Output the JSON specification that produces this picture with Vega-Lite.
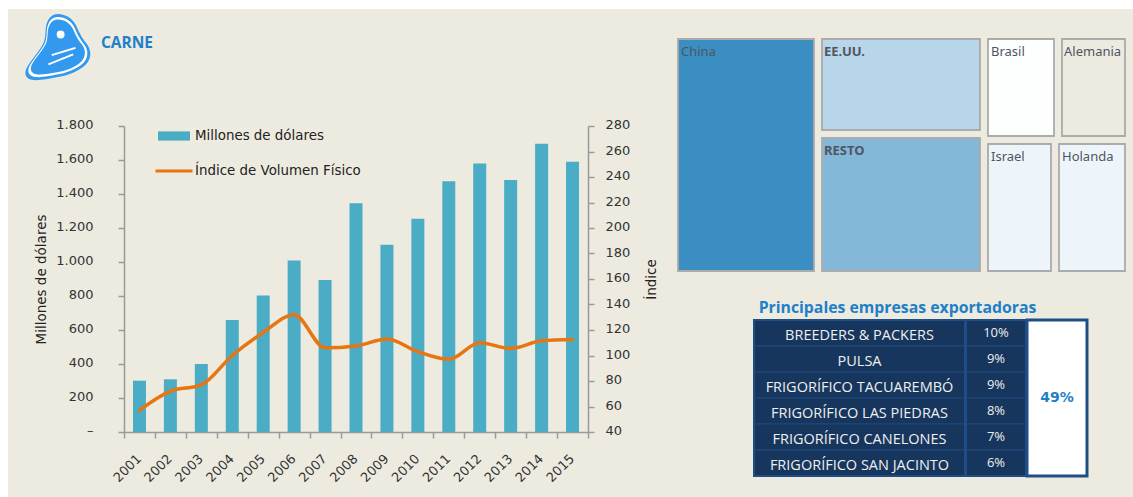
{
"$schema":"https://vega.github.io/schema/vega-lite/v6.json",
"background":"#EDEBE0","padding":0,"spacing":0,
"config":{"view":{"stroke":null}},
"vconcat":[
 {"width":1133,"height":9,"data":{"values":[{}]},"mark":{"type":"rect","fill":"#FFFFFF"},"encoding":{}},
 {"spacing":17,"hconcat":[
  {"width":8,"height":488,"data":{"values":[{}]},"mark":{"type":"rect","fill":"#FFFFFF"},"encoding":{}},
  {"spacing":-57,"hconcat":[
   {"width":66,"height":76,"data":{"values":[{"logo":"CARNE"}]},"layer":[
    {"mark":{"type":"point","filled":true,"opacity":1,"strokeWidth":0,"fill":"#3399EE","size":4356,"shape":"M0,-1C.25,-1 .45,-.85 .55,-.65C.65,-.42 .72,-.28 .85,-.12C1.02,.08 1.05,.38 .77,.6C.5,.8 .2,.88 -.04,.92C-.3,.97 -.55,1.02 -.75,1C-1,.97 -1.05,.78 -.92,.58C-.75,.32 -.55,.1 -.45,-.1C-.35,-.3 -.4,-.55 -.34,-.72C-.27,-.92 -.15,-1 0,-1Z"},"encoding":{}},
    {"mark":{"type":"point","filled":true,"opacity":1,"strokeWidth":0,"fill":"#FFFFFF","size":3600,"shape":"M0,-1C.25,-1 .45,-.85 .55,-.65C.65,-.42 .72,-.28 .85,-.12C1.02,.08 1.05,.38 .77,.6C.5,.8 .2,.88 -.04,.92C-.3,.97 -.55,1.02 -.75,1C-1,.97 -1.05,.78 -.92,.58C-.75,.32 -.55,.1 -.45,-.1C-.35,-.3 -.4,-.55 -.34,-.72C-.27,-.92 -.15,-1 0,-1Z"},"encoding":{}},
    {"mark":{"type":"point","filled":true,"opacity":1,"strokeWidth":0,"fill":"#3399EE","size":3025,"shape":"M0,-1C.25,-1 .45,-.85 .55,-.65C.65,-.42 .72,-.28 .85,-.12C1.02,.08 1.05,.38 .77,.6C.5,.8 .2,.88 -.04,.92C-.3,.97 -.55,1.02 -.75,1C-1,.97 -1.05,.78 -.92,.58C-.75,.32 -.55,.1 -.45,-.1C-.35,-.3 -.4,-.55 -.34,-.72C-.27,-.92 -.15,-1 0,-1Z"},"encoding":{}},
    {"mark":{"type":"point","filled":true,"opacity":1,"strokeWidth":0,"fill":"#FFFFFF","size":4356,"shape":"M.08,-.5Q.2,-.5 .2,-.38Q.2,-.26 .08,-.26Q-.04,-.26 -.04,-.38Q-.04,-.5 .08,-.5ZM-.2,.22L.52,0L.54,.05L-.18,.27ZM-.3,.5L.45,.2L.47,.25L-.28,.55Z"},"encoding":{}}
   ]},
   {"spacing":18,"hconcat":[
    {"spacing":43,"vconcat":[
     {"width":6,"height":66,"data":{"values":[{"producto":"CARNE"}]},"mark":{"type":"text","font":"Open Sans","fontWeight":"bold","fontSize":15.5,"color":"#1F7FC9","dy":1},"encoding":{"text":{"field":"producto"}}},
     {"width":464,"height":306,
      "data":{"values":[
       {"anio":"2001","millones":302,"indice":57},{"anio":"2002","millones":310,"indice":72},{"anio":"2003","millones":400,"indice":77},
       {"anio":"2004","millones":659,"indice":100},{"anio":"2005","millones":803,"indice":118},{"anio":"2006","millones":1009,"indice":132},
       {"anio":"2007","millones":894,"indice":106},{"anio":"2008","millones":1345,"indice":107.5},{"anio":"2009","millones":1102,"indice":113},
       {"anio":"2010","millones":1255,"indice":103},{"anio":"2011","millones":1475,"indice":97},{"anio":"2012","millones":1580,"indice":110},
       {"anio":"2013","millones":1482,"indice":105.5},{"anio":"2014","millones":1696,"indice":111.5},{"anio":"2015","millones":1590,"indice":112.5}
      ]},
      "encoding":{"x":{"field":"anio","type":"ordinal","title":null,"scale":{"paddingInner":0,"paddingOuter":0},
        "axis":{"labelAngle":-45,"labelFont":"DejaVu Sans","labelFontSize":13,"labelColor":"#333333","domainColor":"#9A9A9A","domainWidth":1.5,"tickColor":"#9A9A9A","tickWidth":1.5,"tickSize":6,"tickBand":"extent","labelPadding":14,"labelOffset":-5}}},
      "layer":[
       {"mark":{"type":"bar","width":{"band":0.42}},
        "encoding":{
         "y":{"field":"millones","type":"quantitative","title":"Millones de dólares","scale":{"domain":[0,1800],"nice":false},
          "axis":{"values":[0,200,400,600,800,1000,1200,1400,1600,1800],"labelExpr":"datum.value==0?'–\u00a0\u00a0':replace(format(datum.value,','),',','.')","grid":false,"labelFont":"DejaVu Sans","labelFontSize":13,"labelColor":"#333333","labelPadding":25,"labelOffset":-1.5,"domainColor":"#9A9A9A","domainWidth":1.5,"tickColor":"#9A9A9A","tickWidth":1.5,"tickSize":6,"titleFont":"DejaVu Sans","titleFontSize":13.5,"titleFontWeight":"normal","titleColor":"#222222","titlePadding":7}},
         "color":{"datum":"Millones de dólares","type":"nominal","scale":{"domain":["Millones de dólares","Índice de Volumen Físico"],"range":["#4BACC6","#E8750F"]},
          "legend":{"title":null,"orient":"none","legendX":157,"legendY":119,"padding":0,"rowPadding":11,"symbolSize":1156,"labelOffset":4,"labelLimit":300,"labelFont":"DejaVu Sans","labelFontSize":13.4,"labelColor":"#222222",
           "encode":{"symbols":{"update":{"shape":{"signal":"datum.value=='Millones de dólares'?'M-.94,-.27H.94V.27H-.94Z':'M-1.09,-.09H1.09V.09H-1.09Z'"},"fill":{"signal":"datum.value=='Millones de dólares'?'#4BACC6':'#E8750F'"},"stroke":{"value":"transparent"},"strokeWidth":{"value":0},"opacity":{"value":1}}}}}}}},
       {"mark":{"type":"line","interpolate":"monotone","strokeWidth":3.5,"strokeCap":"round"},
        "encoding":{
         "y":{"field":"indice","type":"quantitative","title":"Índice","scale":{"domain":[40,280],"nice":false},
          "axis":{"orient":"right","values":[40,60,80,100,120,140,160,180,200,220,240,260,280],"grid":false,"labelFont":"DejaVu Sans","labelFontSize":13,"labelColor":"#333333","labelPadding":11,"labelOffset":-1.5,"domainColor":"#9A9A9A","domainWidth":1.5,"tickColor":"#9A9A9A","tickWidth":1.5,"tickSize":6,"titleFont":"DejaVu Sans","titleFontSize":13.5,"titleFontWeight":"normal","titleColor":"#222222","titlePadding":29,"titleAngle":270}},
         "color":{"datum":"Índice de Volumen Físico","type":"nominal"}}}
      ],
      "resolve":{"scale":{"y":"independent"},"axis":{"y":"independent"}}}
    ]},
    {"spacing":24,"vconcat":[
     {"spacing":28,"vconcat":[
      {"width":1,"height":1,"data":{"values":[{}]},"mark":{"type":"rect","opacity":0},"encoding":{}},
      {"spacing":6,"hconcat":[
       {"width":136,"height":232,"data":{"values":[{"pais":"China"}]},"layer":[{"mark":{"type":"rect","fill":"#3A8EC2","stroke":"#ABABAB","strokeWidth":1.8},"encoding":{}},{"mark":{"type":"text","align":"left","baseline":"top","dx":3,"dy":7,"font":"Noto Sans","fontSize":13,"color":"#4F5560"},"encoding":{"text":{"field":"pais"},"x":{"datum":0,"scale":{"domain":[0,1]},"axis":null},"y":{"datum":1,"scale":{"domain":[0,1]},"axis":null}}}]},
       {"spacing":6,"vconcat":[
        {"width":158,"height":91,"data":{"values":[{"pais":"EE.UU."}]},"layer":[{"mark":{"type":"rect","fill":"#B8D6E9","stroke":"#ABABAB","strokeWidth":1.8},"encoding":{}},{"mark":{"type":"text","align":"left","baseline":"top","dx":2,"dy":7,"font":"Noto Sans","fontSize":13,"fontWeight":"bold","color":"#4F5560"},"encoding":{"text":{"field":"pais"},"x":{"datum":0,"scale":{"domain":[0,1]},"axis":null},"y":{"datum":1,"scale":{"domain":[0,1]},"axis":null}}}]},
        {"width":158,"height":133,"data":{"values":[{"pais":"RESTO"}]},"layer":[{"mark":{"type":"rect","fill":"#84B8D8","stroke":"#ABABAB","strokeWidth":1.8},"encoding":{}},{"mark":{"type":"text","align":"left","baseline":"top","dx":2,"dy":7,"font":"Noto Sans","fontSize":13,"fontWeight":"bold","color":"#4F5560"},"encoding":{"text":{"field":"pais"},"x":{"datum":0,"scale":{"domain":[0,1]},"axis":null},"y":{"datum":1,"scale":{"domain":[0,1]},"axis":null}}}]}
       ]},
       {"spacing":6,"vconcat":[
        {"spacing":6,"hconcat":[
         {"width":66,"height":97,"data":{"values":[{"pais":"Brasil"}]},"layer":[{"mark":{"type":"rect","fill":"#FDFEFE","stroke":"#ABABAB","strokeWidth":1.8},"encoding":{}},{"mark":{"type":"text","align":"left","baseline":"top","dx":3,"dy":7,"font":"Noto Sans","fontSize":13,"color":"#4F5560"},"encoding":{"text":{"field":"pais"},"x":{"datum":0,"scale":{"domain":[0,1]},"axis":null},"y":{"datum":1,"scale":{"domain":[0,1]},"axis":null}}}]},
         {"width":63,"height":97,"data":{"values":[{"pais":"Alemania"}]},"layer":[{"mark":{"type":"rect","fill":"#EDEBE0","stroke":"#ABABAB","strokeWidth":1.8},"encoding":{}},{"mark":{"type":"text","align":"left","baseline":"top","dx":2,"dy":7,"font":"Noto Sans","fontSize":13,"color":"#4F5560"},"encoding":{"text":{"field":"pais"},"x":{"datum":0,"scale":{"domain":[0,1]},"axis":null},"y":{"datum":1,"scale":{"domain":[0,1]},"axis":null}}}]}
        ]},
        {"spacing":6,"hconcat":[
         {"width":63,"height":127,"data":{"values":[{"pais":"Israel"}]},"layer":[{"mark":{"type":"rect","fill":"#EEF5FA","stroke":"#ABABAB","strokeWidth":1.8},"encoding":{}},{"mark":{"type":"text","align":"left","baseline":"top","dx":3,"dy":7,"font":"Noto Sans","fontSize":13,"color":"#4F5560"},"encoding":{"text":{"field":"pais"},"x":{"datum":0,"scale":{"domain":[0,1]},"axis":null},"y":{"datum":1,"scale":{"domain":[0,1]},"axis":null}}}]},
         {"width":66,"height":127,"data":{"values":[{"pais":"Holanda"}]},"layer":[{"mark":{"type":"rect","fill":"#EEF5FA","stroke":"#ABABAB","strokeWidth":1.8},"encoding":{}},{"mark":{"type":"text","align":"left","baseline":"top","dx":3,"dy":7,"font":"Noto Sans","fontSize":13,"color":"#4F5560"},"encoding":{"text":{"field":"pais"},"x":{"datum":0,"scale":{"domain":[0,1]},"axis":null},"y":{"datum":1,"scale":{"domain":[0,1]},"axis":null}}}]}
        ]}
       ]}
      ]}
     ]},
     {"spacing":0,"hconcat":[
      {"width":75,"height":1,"data":{"values":[{}]},"mark":{"type":"rect","opacity":0},"encoding":{}},
      {"spacing":-2,"vconcat":[
       {"width":287,"height":24,"data":{"values":[{"titulo":"Principales empresas exportadoras"}]},"mark":{"type":"text","font":"Open Sans","fontWeight":"bold","fontSize":15.8,"color":"#1F7FC9"},"encoding":{"text":{"field":"titulo"}}},
       {"spacing":-2,"hconcat":[
        {"width":211,"height":156,"data":{"values":[{"empresa":"BREEDERS & PACKERS","participacion":0.10},{"empresa":"PULSA","participacion":0.09},{"empresa":"FRIGORÍFICO TACUAREMBÓ","participacion":0.09},{"empresa":"FRIGORÍFICO LAS PIEDRAS","participacion":0.08},{"empresa":"FRIGORÍFICO CANELONES","participacion":0.07},{"empresa":"FRIGORÍFICO SAN JACINTO","participacion":0.06}]},
         "encoding":{"y":{"field":"empresa","type":"nominal","sort":null,"axis":null}},
         "layer":[{"mark":{"type":"rect","fill":"#17365D","stroke":"#1F497D","strokeWidth":1}},{"mark":{"type":"text","font":"Open Sans","fontSize":14.5,"color":"#EFEFEF","dy":3},"encoding":{"text":{"field":"empresa"}}},{"mark":{"type":"rect","fill":null,"stroke":"#1F4E86","strokeWidth":2},"encoding":{"y":null}}]},
        {"width":60,"height":156,"data":{"values":[{"empresa":"BREEDERS & PACKERS","participacion":0.10},{"empresa":"PULSA","participacion":0.09},{"empresa":"FRIGORÍFICO TACUAREMBÓ","participacion":0.09},{"empresa":"FRIGORÍFICO LAS PIEDRAS","participacion":0.08},{"empresa":"FRIGORÍFICO CANELONES","participacion":0.07},{"empresa":"FRIGORÍFICO SAN JACINTO","participacion":0.06}]},
         "encoding":{"y":{"field":"empresa","type":"nominal","sort":null,"axis":null}},
         "layer":[{"mark":{"type":"rect","fill":"#17365D","stroke":"#1F497D","strokeWidth":1}},{"mark":{"type":"text","font":"Open Sans","fontSize":13,"color":"#EFEFEF"},"encoding":{"text":{"field":"participacion","format":".0%"}}},{"mark":{"type":"rect","fill":null,"stroke":"#1F4E86","strokeWidth":2},"encoding":{"y":null}}]},
        {"width":60,"height":156,"data":{"values":[{"total":0.49}]},
         "layer":[{"mark":{"type":"rect","fill":"#FFFFFF","stroke":"#1F4E86","strokeWidth":3},"encoding":{}},{"mark":{"type":"text","font":"DejaVu Sans","fontWeight":"bold","fontSize":14,"color":"#1F7FC9"},"encoding":{"text":{"field":"total","format":".0%"}}}]}
       ]}
      ]}
     ]}
    ]}
   ]}
  ]}
 ]}
]}
